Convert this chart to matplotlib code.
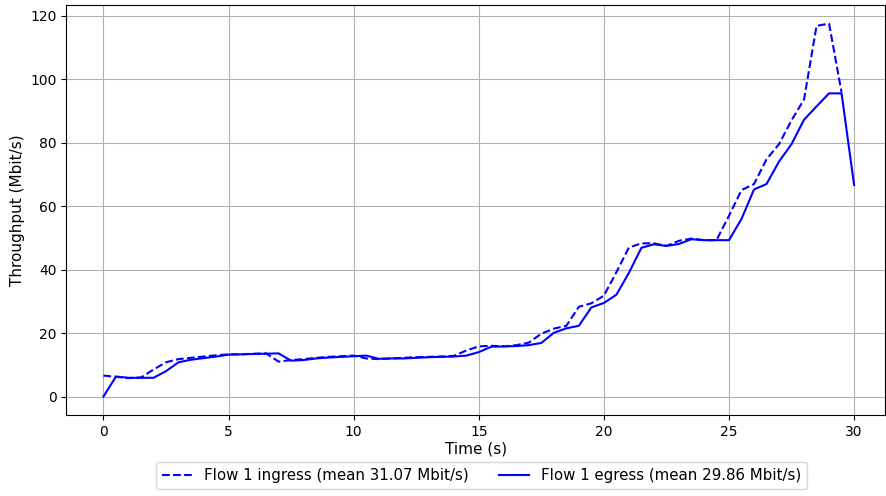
import numpy as np
import matplotlib
matplotlib.use("Agg")
import matplotlib.pyplot as plt

# Throughput samples every 0.5 s
ingress_t = np.arange(0, 30.0, 0.5)
ingress_mbps = [
    6.6, 6.2, 5.8, 6.0, 8.5, 10.8, 11.8, 12.2, 12.6, 13.0,
    13.3, 13.3, 13.5, 13.6, 11.0, 11.5, 11.8, 12.2, 12.5, 12.7,
    12.9, 12.0, 11.8, 12.0, 12.2, 12.4, 12.5, 12.6, 12.8, 14.5,
    15.8, 16.0, 15.8, 16.2, 17.0, 19.8, 21.4, 22.3, 28.3, 29.4,
    31.8, 39.2, 47.0, 48.3, 48.3, 47.5, 49.1, 49.8, 49.3, 49.3,
    57.0, 65.1, 67.0, 74.8, 79.6, 87.1, 93.7, 116.9, 117.6, 95.9,
]
egress_t = np.arange(0, 30.5, 0.5)
egress_mbps = [
    0.0, 6.3, 5.9, 5.9, 5.9, 8.0, 10.8, 11.6, 12.1, 12.6,
    13.2, 13.3, 13.4, 13.5, 13.6, 11.3, 11.5, 12.0, 12.3, 12.5,
    12.7, 12.9, 11.9, 12.0, 12.0, 12.2, 12.4, 12.5, 12.6, 12.9,
    14.0, 15.7, 15.8, 15.9, 16.2, 16.9, 20.1, 21.5, 22.3, 28.1,
    29.5, 32.1, 39.0, 46.9, 48.0, 47.5, 48.1, 49.6, 49.3, 49.3,
    49.3, 56.0, 65.3, 67.0, 74.1, 79.6, 87.3, 91.5, 95.6, 95.6,
    66.7,
]
ingress_mean = 31.07
egress_mean = 29.86

fig, ax = plt.subplots(figsize=(8.86, 4.96), dpi=100)
ax.plot(ingress_t, ingress_mbps, "b--", linewidth=1.5,
        label=f"Flow 1 ingress (mean {ingress_mean:.2f} Mbit/s)")
ax.plot(egress_t, egress_mbps, "b-", linewidth=1.5,
        label=f"Flow 1 egress (mean {egress_mean:.2f} Mbit/s)")
ax.set_xlabel("Time (s)", fontsize=11, labelpad=2)
ax.set_ylabel("Throughput (Mbit/s)", fontsize=11)
ax.set_xlim(-1.48, 31.24)
ax.grid(True)
ax.legend(loc="upper center", bbox_to_anchor=(0.507, -0.097), ncol=2,
          fontsize=10.8)
fig.subplots_adjust(left=0.075, right=0.999, top=0.99, bottom=0.163)
fig.savefig("out.png")
